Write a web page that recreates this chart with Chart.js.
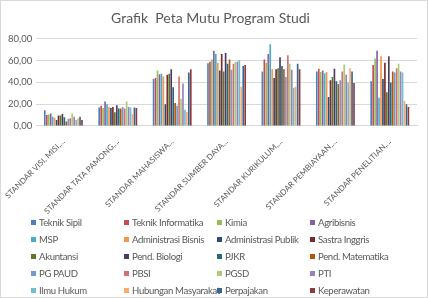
<!DOCTYPE html>
<html>
<head>
<meta charset="utf-8">
<script src="https://cdn.jsdelivr.net/npm/chart.js@4"></script>
<style>
  html, body { margin: 0; padding: 0; background: #fff; }
  .wrap { position: relative; width: 426px; height: 296px; border: 1px solid #d9d9d9; }
  canvas { position: absolute; left: 0; top: 0; }
  .legend {
    position: absolute; left: 30px; top: 213px;
    display: grid; grid-template-columns: 93px 93px 93px 93px; grid-auto-rows: 17px;
    font-family: Lato, "Open Sans", sans-serif; font-size: 9.6px; letter-spacing: -0.35px; color: #595959;
  }
  .legend span.item { display: flex; align-items: center; white-space: nowrap; }
  .legend i { display: inline-block; flex-shrink: 0; width: 5px; height: 5px; margin-right: 3px; }
</style>
</head>
<body>
<div class="wrap">
  <canvas id="chart" width="426" height="218"></canvas>
  <div class="legend" id="legend"></div>
</div>
<script>
// kategori standar
const categories = [
  'STANDAR VISI, MISI,...',
  'STANDAR TATA PAMONG,...',
  'STANDAR MAHASISWA...',
  'STANDAR SUMBER DAYA...',
  'STANDAR KURIKULUM,...',
  'STANDAR PEMBIAYAAN,...',
  'STANDAR PENELITIAN,...'
];

const yTicks = [0, 10, 20, 30, 40, 50, 60, 70, 80];

// nilai per program studi
const teknikSipil = [14.5, 17, 43, 57.5, 50, 50, 41];
const teknikInformatika = [10, 18.5, 44, 59, 61, 52.5, 56];
const kimia = [10.5, 16.5, 51, 61, 58, 49.5, 62];
const agribisnis = [11.5, 22.5, 47.5, 69, 66, 51, 69];
const msp = [8.5, 20, 48, 66, 75, 48.5, 26];
const administrasiBisnis = [7.5, 17.5, 45.5, 58, 52, 49.5, 64];
const administrasiPublik = [5.5, 16.5, 20, 51, 44, 26.5, 43];
const sastraInggris = [9.5, 17.5, 47, 66, 52, 42, 58];
const akuntansi = [9.5, 12.5, 48, 50, 53, 45, 31];
const pendBiologi = [11, 19, 52, 67, 63, 52.5, 64];
const pjkr = [8, 16, 35.5, 57, 55, 41, 40];
const pendMatematika = [4, 16, 21, 61, 52, 38.5, 50];
const pgPaud = [6.5, 17.5, 18.5, 51.5, 45, 42, 49];
const pbsi = [7, 16, 45.5, 57, 65, 50, 53];
const pgsd = [11.5, 22.5, 25, 59, 57, 56.5, 57];
const pti = [8.5, 17.5, 39, 59, 51.5, 47, 50];
const ilmuHukum = [5.5, 17, 15, 60.5, 35, 40, 49];
const hubunganMasyarakat = [7, 11, 13, 36, 36, 53, 23];
const perpajakan = [8.5, 17, 49, 55, 57, 50, 20];
const keperawatan = [5.5, 16.5, 52, 56, 52, 39.5, 17.5];

const seriesNames = [
  'Teknik Sipil', 'Teknik Informatika', 'Kimia', 'Agribisnis',
  'MSP', 'Administrasi Bisnis', 'Administrasi Publik', 'Sastra Inggris',
  'Akuntansi', 'Pend. Biologi', 'PJKR', 'Pend. Matematika',
  'PG PAUD', 'PBSI', 'PGSD', 'PTI',
  'Ilmu Hukum', 'Hubungan Masyarakat', 'Perpajakan', 'Keperawatan'
];
const seriesValues = [
  teknikSipil, teknikInformatika, kimia, agribisnis,
  msp, administrasiBisnis, administrasiPublik, sastraInggris,
  akuntansi, pendBiologi, pjkr, pendMatematika,
  pgPaud, pbsi, pgsd, pti,
  ilmuHukum, hubunganMasyarakat, perpajakan, keperawatan
];
const colors = [
  '#4F81BD', '#C0504D', '#9BBB59', '#8064A2', '#4BACC6', '#F79646',
  '#2C4D75', '#772C2A', '#5F7530', '#4D3B62', '#276A7C', '#B65708',
  '#729ACA', '#CD7371', '#AFC97A', '#9983B5', '#6FBDD1', '#F9AB6B',
  '#3A6595', '#8E3B39'
];

const datasets = seriesNames.map((name, i) => ({
  label: name,
  data: seriesValues[i],
  backgroundColor: colors[i],
  categoryPercentage: 0.72,
  barPercentage: 0.85
}));

const textColor = '#595959';

new Chart(document.getElementById('chart'), {
  type: 'bar',
  data: { labels: categories, datasets: datasets },
  options: {
    responsive: false,
    animation: false,
    layout: { padding: { left: 3, right: 10, top: 0, bottom: 0 } },
    plugins: {
      legend: { display: false },
      tooltip: { enabled: false },
      title: {
        display: true,
        text: 'Grafik  Peta Mutu Program Studi',
        color: textColor,
        font: { family: 'Lato', size: 14, weight: 'normal' },
        padding: { top: 9, bottom: 12 }
      }
    },
    scales: {
      y: {
        min: 0,
        max: 80,
        afterBuildTicks: axis => { axis.ticks = yTicks.map(v => ({ value: v })); },
        ticks: {
          color: textColor,
          font: { family: 'Lato', size: 9.5 },
          padding: 4,
          callback: v => v.toFixed(2).replace('.', ',')
        },
        grid: { color: '#d9d9d9', drawTicks: false },
        border: { display: false }
      },
      x: {
        ticks: {
          color: textColor,
          font: { family: 'Lato', size: 8 },
          minRotation: 45,
          maxRotation: 45,
          autoSkip: false
        },
        grid: { display: false },
        border: { color: '#d9d9d9' }
      }
    }
  }
});

// legenda 4 kolom seperti Excel
const legendBox = document.getElementById('legend');
seriesNames.forEach((name, i) => {
  const item = document.createElement('span');
  item.className = 'item';
  item.innerHTML = '<i style="background:' + colors[i] + '"></i>' + name;
  legendBox.appendChild(item);
});
</script>
</body>
</html>
